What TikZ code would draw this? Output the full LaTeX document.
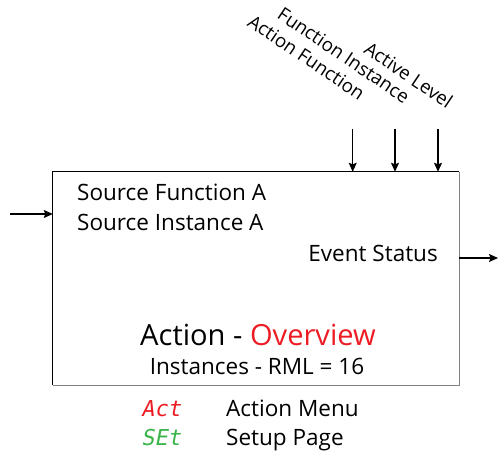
\documentclass[tikz,border=0pt]{standalone}
\usepackage{fontspec}
\setmainfont{Open Sans}
\newfontfamily\segfont{DejaVu Sans Mono}[FakeSlant=0.2]
\usetikzlibrary{arrows.meta,calc}
\definecolor{ovred}{HTML}{ED1C24}
\definecolor{setgreen}{HTML}{39B54A}
\begin{document}
\begin{tikzpicture}[x=1bp,y=-1bp,
  arr/.style={line width=1.1bp,-{Stealth[length=9bp,width=8bp,inset=1.5bp]}},
  txt/.style={inner sep=0pt,font=\fontsize{22.6}{25}\selectfont},
  rot/.style={inner sep=0pt,anchor=base east,rotate=-34,font=\fontsize{18.8}{20}\selectfont},
  seg/.style={inner sep=0pt,anchor=base west,font=\segfont\fontsize{22}{24}\selectfont}]
\useasboundingbox (0,0) rectangle (498,452);
\node[minimum width=406bp,minimum height=213bp,inner sep=0pt] (box) at (256,278.5) {};
\draw[line width=1.3bp,black] (box.south west) -- (box.north west) -- (box.north east);
\draw[line width=1.3bp,gray] (box.north east) -- (box.south east) -- (box.south west);
% input / output
\coordinate (in) at (10,214);
\draw[arr] (in) -- (in -| box.west);
\coordinate (out) at (498,258);
\draw[arr] (out -| box.east) -- (out);
% top inputs
\coordinate (t1) at (352.7,129);
\coordinate (t2) at (395,129);
\coordinate (t3) at (438,129);
\draw[arr] (t1) -- (t1 |- box.north);
\draw[arr] (t2) -- (t2 |- box.north);
\draw[arr] (t3) -- (t3 |- box.north);
\node[rot] (l1) at (359,101) {Action Function};
\node[rot] (l2) at (404,104) {Function Instance};
\node[rot] (l3) at (447,109) {Active Level};
% box texts
\node[txt,anchor=base west] (sf) at (77,201) {Source Function A};
\node[txt,anchor=base west] (si) at (77,231) {Source Instance A};
\node[txt,anchor=base east] (es) at (438,261) {Event Status};
\node[inner sep=0pt,anchor=base,font=\fontsize{29.2}{31}\selectfont] (title) at (258,345) {Action - \textcolor{ovred}{Overview}};
\node[txt,anchor=base] (inst) at (257,374) {Instances - RML = 16};
% legend
\node[seg,text=ovred] (act) at (141,416) {Act};
\node[txt,anchor=base west] (am) at (226,416) {Action Menu};
\node[seg,text=setgreen] (set) at (141,445) {SEt};
\node[txt,anchor=base west] (sp) at (226,445) {Setup Page};
\end{tikzpicture}
\end{document}
